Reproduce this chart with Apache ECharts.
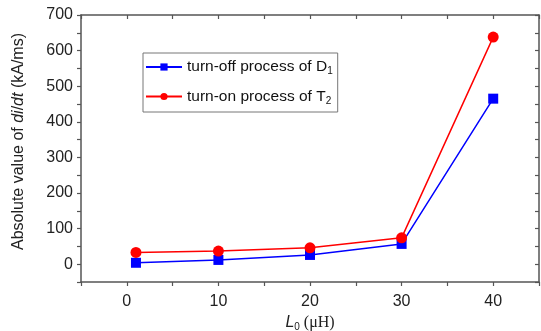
<!DOCTYPE html>
<html>
<head>
<meta charset="utf-8">
<script src="https://cdn.jsdelivr.net/npm/echarts@6/dist/echarts.min.js"></script>
<style>
html, body { margin: 0; padding: 0; background: #fff; }
#chart { width: 541px; height: 331px; }
</style>
</head>
<body>
<div id="chart"></div>
<script>
// 数据
var inductance = [1, 10, 20, 30, 40]; // L0 (μH)
var turnOffD1 = [4, 12, 26, 57, 465]; // turn-off process of D1
var turnOnT2 = [33, 37, 46, 74, 638]; // turn-on process of T2
var seriesNames = ['turn-off process of D1', 'turn-on process of T2'];

var chart = {

	build: function() {
		var myChart = echarts.init(document.getElementById('chart'));
		var font = 'Liberation Sans, Arial, sans-serif';
		var axisColor = '#555';

		function pairs(ys) {
			var out = [];
			for (var i = 0; i < inductance.length; i++) {
				out.push([inductance[i], ys[i]]);
			}
			return out;
		}

		var option = {
			animation: false,
			grid: { left: 81, right: 2, top: 15, bottom: 49, outerBoundsMode: 'none', containLabel: false },
			legend: {
				left: 143,
				top: 53,
				orient: 'vertical',
				data: seriesNames,
				itemWidth: 36,
				itemHeight: 9,
				itemGap: 12,
				padding: [6, 5, 6, 2],
				borderColor: '#777',
				borderWidth: 1,
				formatter: function(name) { // 下标
					var base = name.slice(0, -1);
					return '{t|' + base + '}{s|' + name.slice(-1) + '}';
				},
				textStyle: {
					rich: {
						t: { fontFamily: font, fontSize: 15.5, color: '#111' },
						s: { fontFamily: font, fontSize: 10, color: '#111', padding: [9, 0, 0, 0] }
					}
				}
			},
			xAxis: [{
				type: 'value',
				min: -5,
				max: 45,
				interval: 5,
				name: '{i|L}{s|0}{n| (μH)}',
				nameLocation: 'middle',
				nameGap: 27,
				nameTextStyle: {
					rich: {
						i: { fontFamily: font, fontStyle: 'italic', fontSize: 16, color: '#222' },
						s: { fontFamily: font, fontSize: 10, color: '#222', padding: [8, 0, 0, 0] },
						n: { fontFamily: 'Liberation Serif, serif', fontSize: 16, color: '#222' }
					}
				},
				axisLine: { onZero: false, lineStyle: { color: axisColor, width: 1.5 } },
				axisTick: { length: 4, lineStyle: { color: axisColor, width: 1.2 } },
				splitLine: { show: false },
				axisLabel: {
					fontFamily: font, fontSize: 16, color: '#222', margin: 12,
					formatter: function(v) { return (v % 10 === 0 && v >= 0 && v <= 40) ? v : ''; }
				}
			}, {
				type: 'value',
				position: 'top',
				min: -5,
				max: 45,
				interval: 5,
				axisLine: { onZero: false, lineStyle: { color: axisColor, width: 1.5 } },
				axisTick: { inside: true, length: 4, lineStyle: { color: axisColor, width: 1.2 } },
				axisLabel: { show: false },
				splitLine: { show: false }
			}],
			yAxis: [{
				type: 'value',
				min: -50,
				max: 700,
				interval: 50,
				name: '{n|Absolute value of }{i|di}{n|/}{i|dt}{n| (kA/ms)}',
				nameLocation: 'middle',
				nameGap: 54,
				nameTextStyle: {
					padding: [0, 0, 0, 14],
					rich: {
						n: { fontFamily: font, fontSize: 16, color: '#222' },
						i: { fontFamily: font, fontStyle: 'italic', fontSize: 16, color: '#222' }
					}
				},
				axisLine: { onZero: false, lineStyle: { color: axisColor, width: 1.5 } },
				axisTick: { length: 4, lineStyle: { color: axisColor, width: 1.2 } },
				splitLine: { show: false },
				axisLabel: {
					fontFamily: font, fontSize: 16, color: '#222', margin: 8,
					formatter: function(v) { return (v % 100 === 0 && v >= 0) ? v : ''; }
				}
			}, {
				type: 'value',
				position: 'right',
				min: -50,
				max: 700,
				interval: 50,
				axisLine: { onZero: false, lineStyle: { color: axisColor, width: 1.5 } },
				axisTick: { inside: true, length: 4, lineStyle: { color: axisColor, width: 1.2 } },
				axisLabel: { show: false },
				splitLine: { show: false }
			}],
			series: [{
				name: seriesNames[0],
				type: 'line',
				data: pairs(turnOffD1),
				symbol: 'rect',
				symbolSize: 10,
				color: '#0000ff',
				lineStyle: { width: 1.5 },
				z: 3
			}, {
				name: seriesNames[1],
				type: 'line',
				data: pairs(turnOnT2),
				symbol: 'circle',
				symbolSize: 11,
				color: '#ff0000',
				lineStyle: { width: 1.5 },
				z: 4
			}]
		};
		myChart.setOption(option);
	}

};

chart.build();
</script>
</body>
</html>
